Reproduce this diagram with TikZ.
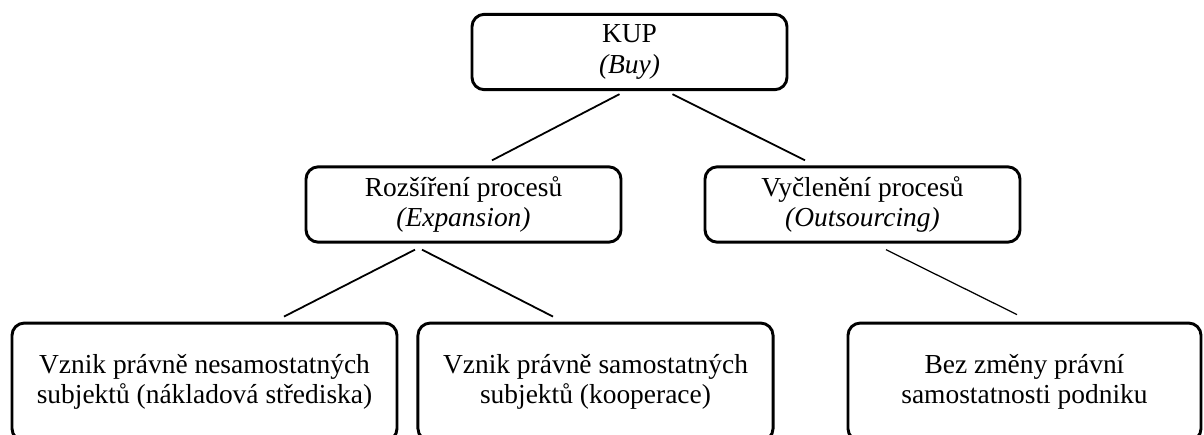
\documentclass[tikz,border=0pt]{standalone}
\usepackage{fontspec}
\setmainfont{Liberation Serif}

\tikzset{
  box/.style={draw, line width=1.3pt, rounded corners=5.5pt, align=center,
    inner sep=0pt, font=\fontsize{12.2}{13.6}\selectfont},
  midbox/.style={box, minimum width=140pt, minimum height=33.5pt},
  lowbox/.style={box, minimum height=52.4pt},
  conn/.style={line width=0.8pt},
}

\begin{document}
\begin{tikzpicture}[x=0.4444pt, y=-0.4444pt]
    \clip (0,0) rectangle (1204,434); % page
    \node[midbox] (kup) at (629.5,52) {KUP\\\textit{(Buy)}};
    \node[midbox] (roz) at (463.5,204.5) {Rozšíření procesů\\\textit{(Expansion)}};
    \node[midbox] (vyc) at (862.5,204.5) {Vyčlenění procesů\\\textit{(Outsourcing)}};
    \node[lowbox, minimum width=171.1pt] (nesam) at (204.5,382) {Vznik právně nesamostatných\\subjektů (nákladová střediska)};
    \node[lowbox, minimum width=157.8pt] (samo) at (595.5,382) {Vznik právně samostatných\\subjektů (kooperace)};
    \node[lowbox, minimum width=156.9pt] (bez) at (1024.5,382) {Bez změny právní\\samostatnosti podniku};
    \draw[conn] ([shift={(-10,3)}]kup.south) -- ([shift={(28.5,-5)}]roz.north); % buy -> expansion
    \draw[conn] ([shift={(43,3)}]kup.south) -- ([shift={(-57.5,-5)}]vyc.north); % buy -> outsourcing
    \draw[conn] ([shift={(-48.5,6)}]roz.south) -- ([shift={(79.5,-5)}]nesam.north); % expansion -> cost centres
    \draw[conn] ([shift={(-41.5,6)}]roz.south) -- ([shift={(-42.5,-5)}]samo.north); % expansion -> cooperation
    \draw[line width=0.55pt] ([shift={(23.5,6)}]vyc.south) -- ([shift={(-7.5,-7)}]bez.north); % outsourcing
\end{tikzpicture}
\end{document}
